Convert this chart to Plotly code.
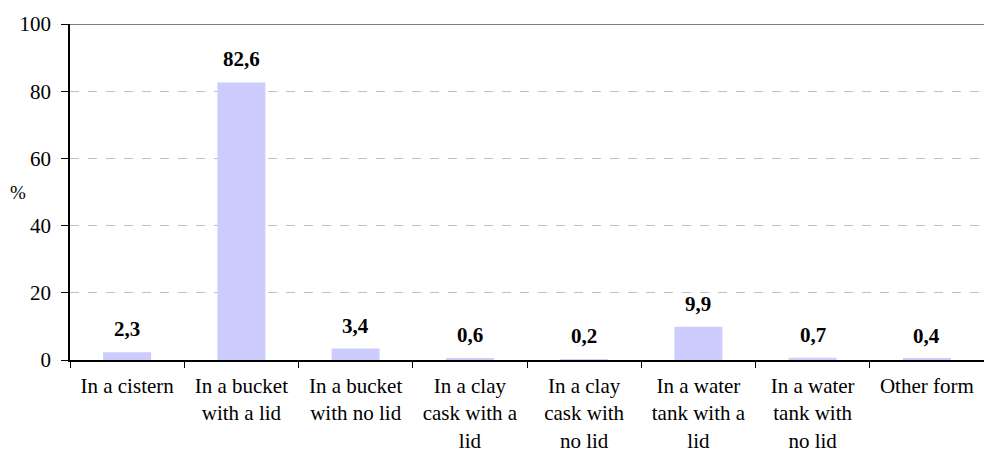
import plotly.graph_objects as go

# Storage of drinking water, share of households (%)
categories = [
    "In a cistern",
    "In a bucket<br>with a lid",
    "In a bucket<br>with no lid",
    "In a clay<br>cask with a<br>lid",
    "In a clay<br>cask with<br>no lid",
    "In a water<br>tank with a<br>lid",
    "In a water<br>tank with<br>no lid",
    "Other form",
]
values = [2.3, 82.6, 3.4, 0.6, 0.2, 9.9, 0.7, 0.4]
labels = ["2,3", "82,6", "3,4", "0,6", "0,2", "9,9", "0,7", "0,4"]
y_ticks = [0, 20, 40, 60, 80, 100]

font = "Times New Roman, Liberation Serif, DejaVu Serif, serif"

fig = go.Figure()
fig.add_trace(go.Bar(
    x=categories, y=values,
    marker=dict(color="#CCCCFF", line=dict(width=0)),
    width=0.42,
    hoverinfo="skip",
))

# value labels above the bars (annotations so they sit a bit higher than textposition allows)
for cat, val, lab in zip(categories, values, labels):
    fig.add_annotation(x=cat, y=val, text="<b>%s</b>" % lab, showarrow=False,
                       yanchor="bottom", yshift=9,
                       font=dict(family=font, size=21, color="#000000"))

fig.update_layout(
    width=984, height=460,
    margin=dict(l=70, r=0, t=24, b=100),
    paper_bgcolor="white", plot_bgcolor="white",
    showlegend=False,
    font=dict(family=font, size=21, color="#000000"),
    xaxis=dict(
        type="category", automargin=False,
        showline=True, linecolor="#000000", linewidth=1.5,
        ticks="outside", ticklen=6, tickcolor="#000000", tickwidth=1,
        tickson="boundaries",
        showgrid=False,
        tickfont=dict(family=font, size=21),
        ticklabelstandoff=6,
    ),
    yaxis=dict(
        range=[0, 100], automargin=False,
        tickvals=y_ticks,
        showline=True, linecolor="#000000", linewidth=1.5,
        ticks="outside", ticklen=7, tickcolor="#000000",
        showgrid=True, gridcolor="#C0C0C0", griddash="dash", gridwidth=1,
        zeroline=False,
        tickfont=dict(family=font, size=21),
        ticklabelstandoff=6,
    ),
    bargap=0.58,
)

# top border of the plot area
fig.add_shape(type="line", xref="paper", yref="y", x0=0, x1=1, y0=100, y1=100,
              line=dict(color="#808080", width=2))

fig.add_annotation(text="%", xref="paper", yref="y", x=-0.057, y=50,
                   showarrow=False, xanchor="center",
                   font=dict(family=font, size=19))

# page has an 8px body margin by default; drop it so the figure fills the window
fig.write_html("out.html", config={"displayModeBar": False},
               post_script="document.body.style.margin='0';")
